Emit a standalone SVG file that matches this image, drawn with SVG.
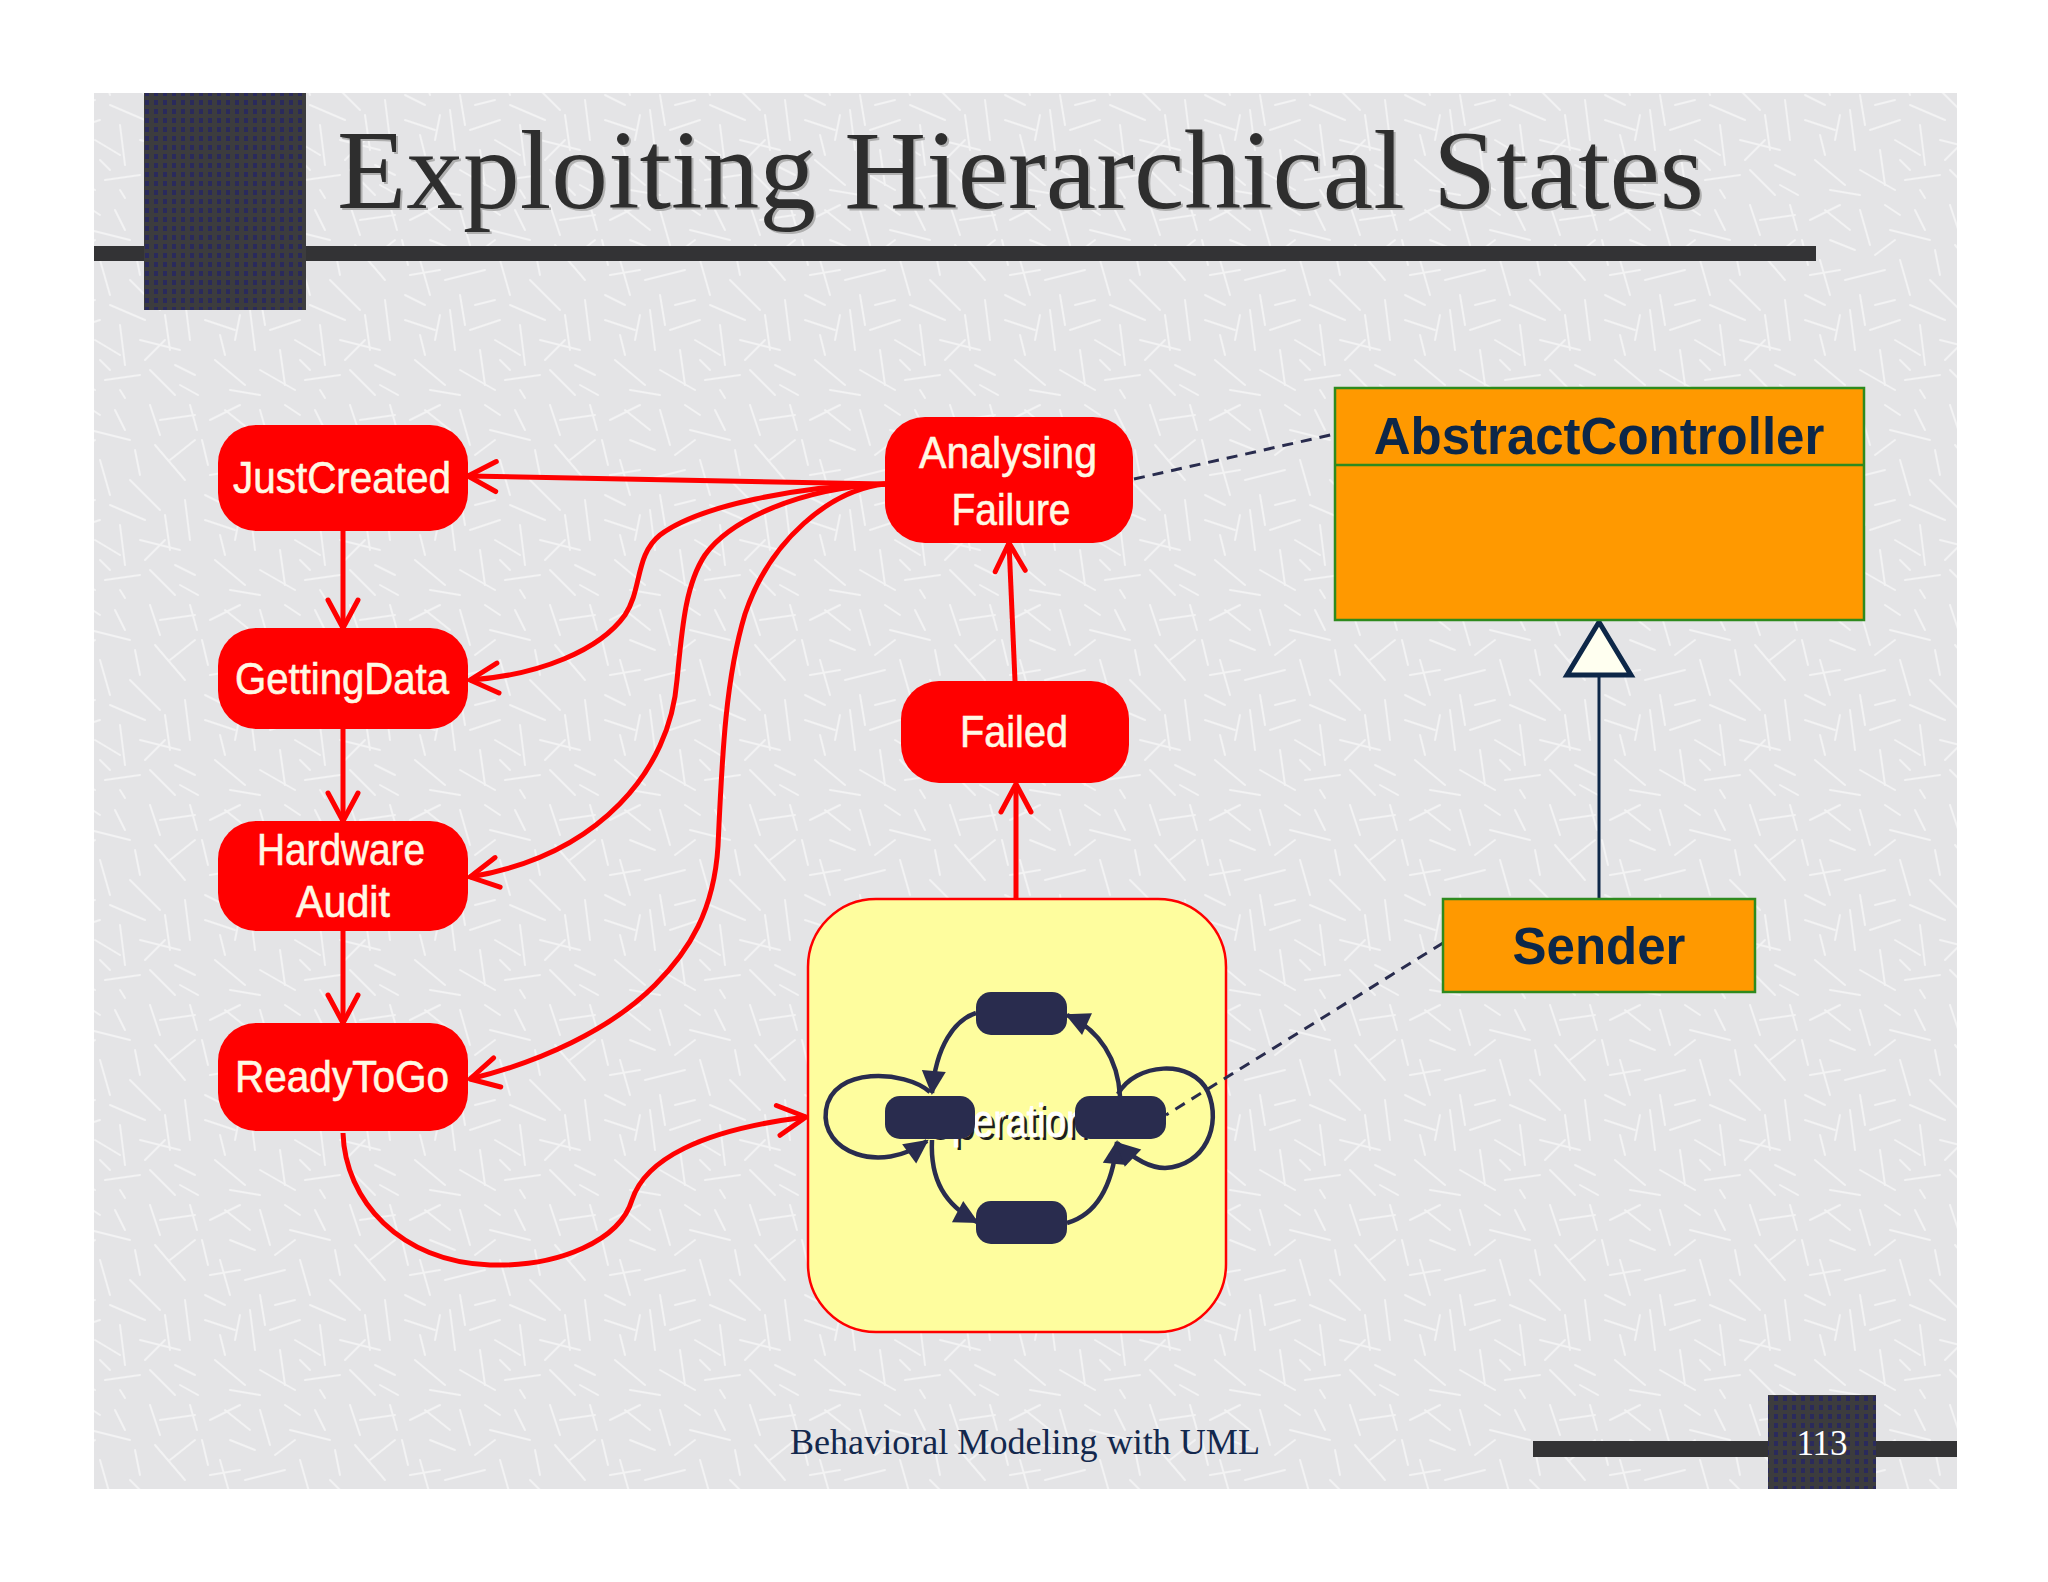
<svg xmlns="http://www.w3.org/2000/svg" width="2048" height="1582" viewBox="0 0 2048 1582">
<defs>
<pattern id="scratch" x="0" y="0" width="200" height="200" patternUnits="userSpaceOnUse">
<rect width="200" height="200" fill="#e4e4e6"/>
<g stroke="#f6f6f7" stroke-width="2" stroke-linecap="round" opacity="0.8">
<line x1="10" y1="20" x2="40" y2="5"/><line x1="60" y1="10" x2="70" y2="45"/><line x1="90" y1="30" x2="130" y2="40"/>
<line x1="150" y1="5" x2="160" y2="35"/><line x1="170" y1="60" x2="195" y2="40"/><line x1="20" y1="60" x2="30" y2="95"/>
<line x1="45" y1="80" x2="85" y2="70"/><line x1="100" y1="60" x2="110" y2="95"/><line x1="130" y1="80" x2="160" y2="110"/>
<line x1="5" y1="120" x2="35" y2="130"/><line x1="50" y1="110" x2="55" y2="150"/><line x1="70" y1="130" x2="100" y2="120"/>
<line x1="120" y1="125" x2="125" y2="165"/><line x1="140" y1="140" x2="180" y2="150"/><line x1="185" y1="100" x2="190" y2="140"/>
<line x1="15" y1="160" x2="45" y2="185"/><line x1="60" y1="170" x2="95" y2="190"/><line x1="105" y1="180" x2="140" y2="175"/>
<line x1="150" y1="170" x2="175" y2="195"/><line x1="30" y1="40" x2="55" y2="50"/><line x1="80" y1="150" x2="85" y2="185"/>
<line x1="160" y1="20" x2="195" y2="15"/><line x1="115" y1="10" x2="125" y2="30"/><line x1="5" y1="95" x2="25" y2="105"/>
<line x1="175" y1="165" x2="195" y2="175"/><line x1="35" y1="140" x2="40" y2="115"/><line x1="95" y1="100" x2="75" y2="105"/>
<line x1="25" y1="10" x2="50" y2="30"/><line x1="75" y1="55" x2="95" y2="40"/><line x1="135" y1="50" x2="140" y2="75"/>
<line x1="155" y1="45" x2="185" y2="80"/><line x1="10" y1="75" x2="40" y2="70"/><line x1="60" y1="95" x2="65" y2="125"/>
<line x1="110" y1="105" x2="145" y2="120"/><line x1="165" y1="115" x2="170" y2="150"/><line x1="20" y1="135" x2="25" y2="155"/>
<line x1="95" y1="140" x2="120" y2="155"/><line x1="145" y1="160" x2="165" y2="140"/><line x1="30" y1="190" x2="60" y2="195"/>
<line x1="120" y1="190" x2="125" y2="198"/><line x1="180" y1="185" x2="198" y2="195"/><line x1="85" y1="5" x2="100" y2="15"/>
<line x1="190" y1="5" x2="197" y2="30"/><line x1="2" y1="40" x2="8" y2="65"/><line x1="100" y1="160" x2="110" y2="170"/>
</g>
</pattern>
<pattern id="dots" x="0" y="0" width="9" height="9" patternUnits="userSpaceOnUse">
<rect width="9" height="9" fill="#3c3c3e"/>
<rect x="1" y="1" width="4" height="5" fill="#2a2a5c"/>
</pattern>
<marker id="open" viewBox="0 0 32 32" refX="30" refY="16" markerWidth="32" markerHeight="32" markerUnits="userSpaceOnUse" orient="auto" overflow="visible">
<path d="M2,1 L30,16 L2,31" fill="none" stroke="#ff0000" stroke-width="5" stroke-linecap="round" stroke-linejoin="round"/>
</marker>
<marker id="solid" viewBox="0 0 24 24" refX="22" refY="12" markerWidth="24" markerHeight="24" markerUnits="userSpaceOnUse" orient="auto" overflow="visible">
<path d="M0,0 L24,12 L0,24 z" fill="#292c4e"/>
</marker>
<style>
.node rect{fill:#ff0000;}
.node text{font-family:"Liberation Sans",Arial,sans-serif;font-size:45px;fill:#fff8e4;text-anchor:middle;stroke:#fff8e4;stroke-width:0.6;}
.red{fill:none;stroke:#ff0000;stroke-width:5;marker-end:url(#open);}
.navy{fill:none;stroke:#292c4e;stroke-width:4.5;marker-end:url(#solid);}
.dash{fill:none;stroke:#292c4e;stroke-width:3;stroke-dasharray:11 8;}
.cls{fill:#ff9900;stroke:#2e8a1e;stroke-width:2.5;}
.clst{font-family:"Liberation Sans",Arial,sans-serif;font-weight:bold;font-size:51px;fill:#0d2748;text-anchor:middle;}
.sub{fill:#292c4e;}
.serif{font-family:"Liberation Serif","Times New Roman",serif;}
.optext{font-family:"Liberation Sans",Arial,sans-serif;font-size:47px;}
</style>
</defs>
<rect width="2048" height="1582" fill="#ffffff"/>
<rect x="94" y="93" width="1863" height="1396" fill="url(#scratch)"/>

<g id="title">
<rect x="94" y="246" width="1722" height="15" fill="#333335"/>
<rect x="144" y="93" width="162" height="217" fill="url(#dots)"/>
<text class="serif" x="339" y="210" font-size="113" fill="#b0b0b0" textLength="1367" lengthAdjust="spacingAndGlyphs">Exploiting Hierarchical States</text>
<text class="serif" x="337" y="208" font-size="113" fill="#2e2e2e" textLength="1367" lengthAdjust="spacingAndGlyphs">Exploiting Hierarchical States</text>
</g>

<g id="footer">
<rect x="1533" y="1441" width="424" height="16" fill="#333335"/>
<rect x="1768" y="1395" width="108" height="94" fill="url(#dots)"/>
<text class="serif" x="1822" y="1455" font-size="35" fill="#ffffff" text-anchor="middle">113</text>
<text class="serif" x="790" y="1454" font-size="36" fill="#13284d" textLength="470" lengthAdjust="spacingAndGlyphs">Behavioral Modeling with UML</text>
</g>

<g id="operation">
<rect x="808" y="899" width="418" height="433" rx="68" ry="68" fill="#fefd9e" stroke="#ff0000" stroke-width="2.5"/>
<text class="optext" x="926" y="1140" fill="#1e1e1e" textLength="164" lengthAdjust="spacingAndGlyphs">Operation</text>
<text class="optext" x="923" y="1137" fill="#ffffff" stroke="#ffffff" stroke-width="0.8" textLength="164" lengthAdjust="spacingAndGlyphs">Operation</text>
<g id="op-sub-transitions">
<path class="navy" d="M976,1013 C955,1020 936,1045 932,1093"/>
<path class="navy" d="M932,1140 C930,1180 945,1205 977,1222"/>
<path class="navy" d="M1067,1223 C1095,1215 1112,1190 1117,1142"/>
<path class="navy" d="M1120,1096 C1118,1060 1100,1030 1067,1015"/>
<path class="navy" d="M930,1092 C905,1070 832,1066 826,1110 C820,1152 880,1175 927,1141"/>
<path class="navy" d="M1118,1094 C1135,1063 1192,1058 1208,1092 C1222,1125 1205,1166 1165,1168 C1150,1168 1135,1160 1117,1143"/>
</g>
<rect class="sub" x="976" y="992" width="91" height="43" rx="15"/>
<rect class="sub" x="885" y="1096" width="90" height="43" rx="15"/>
<rect class="sub" x="1075" y="1096" width="91" height="43" rx="15"/>
<rect class="sub" x="976" y="1201" width="91" height="43" rx="15"/>
</g>

<g id="connectors">
<path class="red" d="M885,484 L468,476"/>
<path class="red" d="M343,530 L343,628"/>
<path class="red" d="M343,729 L343,821"/>
<path class="red" d="M343,931 L343,1023"/>
<path class="red" d="M885,484 C800,486 700,505 660,535 C635,555 642,590 625,615 C600,650 540,675 470,680"/>
<path class="red" d="M885,484 C800,488 730,520 705,555 C685,585 682,630 677,680 C670,770 600,855 470,877"/>
<path class="red" d="M885,484 C830,490 770,540 745,614 C725,680 722,760 718,846 C714,910 690,950 655,985 C610,1030 540,1062 470,1079"/>
<path class="red" d="M343,1133 C345,1200 400,1262 490,1265 C560,1267 620,1240 632,1200 C645,1160 700,1130 806,1117"/>
<path class="red" d="M1016,899 L1016,784"/>
<path class="red" d="M1015,681 L1009,543"/>
<path class="dash" d="M1134,479 L1335,434"/>
<path class="dash" d="M1443,943 L1166,1115"/>
<path d="M1599,899 L1599,674" fill="none" stroke="#0d2748" stroke-width="3"/>
<path d="M1599,622 L1631,675 L1567,675 z" fill="#fffff0" stroke="#0d2748" stroke-width="5" stroke-linejoin="miter"/>
</g>

<g id="JustCreated" class="node">
<rect x="218" y="425" width="250" height="106" rx="38" ry="38"/>
<text x="342" y="493" textLength="218" lengthAdjust="spacingAndGlyphs">JustCreated</text>
</g>
<g id="GettingData" class="node">
<rect x="218" y="628" width="250" height="101" rx="38" ry="38"/>
<text x="342" y="694" textLength="214" lengthAdjust="spacingAndGlyphs">GettingData</text>
</g>
<g id="HardwareAudit" class="node">
<rect x="218" y="821" width="250" height="110" rx="38" ry="38"/>
<text x="341" y="865" textLength="168" lengthAdjust="spacingAndGlyphs">Hardware</text>
<text x="343" y="917" textLength="94" lengthAdjust="spacingAndGlyphs">Audit</text>
</g>
<g id="ReadyToGo" class="node">
<rect x="218" y="1023" width="250" height="108" rx="38" ry="38"/>
<text x="342" y="1092" textLength="214" lengthAdjust="spacingAndGlyphs">ReadyToGo</text>
</g>
<g id="AnalysingFailure" class="node">
<rect x="885" y="417" width="248" height="126" rx="40" ry="40"/>
<text x="1008" y="468" textLength="178" lengthAdjust="spacingAndGlyphs">Analysing</text>
<text x="1011" y="525" textLength="119" lengthAdjust="spacingAndGlyphs">Failure</text>
</g>
<g id="Failed" class="node">
<rect x="901" y="681" width="228" height="102" rx="38" ry="38"/>
<text x="1014" y="747" textLength="108" lengthAdjust="spacingAndGlyphs">Failed</text>
</g>

<g id="AbstractController">
<rect class="cls" x="1335" y="388" width="529" height="232"/>
<line x1="1335" y1="465" x2="1864" y2="465" stroke="#2e8a1e" stroke-width="2.5"/>
<text class="clst" x="1599" y="454">AbstractController</text>
</g>
<g id="Sender">
<rect class="cls" x="1443" y="899" width="312" height="93"/>
<text class="clst" x="1599" y="964">Sender</text>
</g>
</svg>
